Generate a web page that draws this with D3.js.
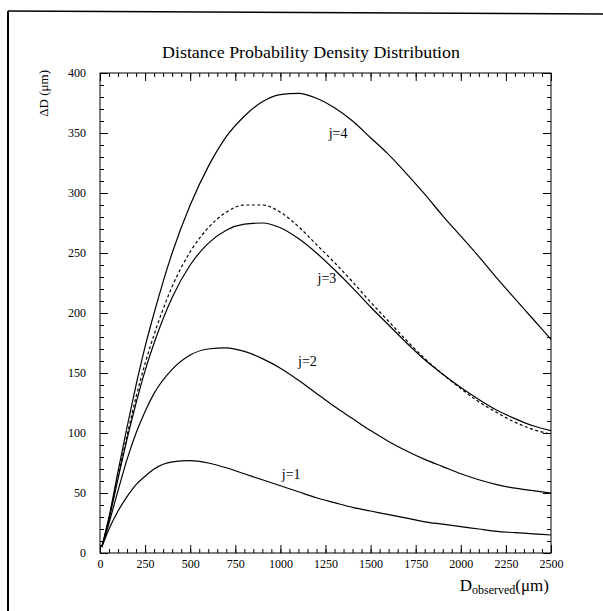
<!DOCTYPE html>
<html>
<head>
<meta charset="utf-8">
<script src="https://cdn.jsdelivr.net/npm/d3@7"></script>
<style>
  body { margin: 0; background: #fff; }
  svg text { font-family: "Liberation Serif", "DejaVu Serif", serif; fill: #000; }
</style>
</head>
<body>
<div id="chart"></div>
<script>
// D observed (um) sample positions, shared by every curve
var dObs = [10, 50, 100, 150, 200, 250, 300, 400, 500, 600, 700, 800, 900, 1000,
            1100, 1200, 1300, 1400, 1500, 1600, 1700, 1800, 1900, 2000,
            2100, 2200, 2300, 2400, 2500];

// delta D (um)
var j1 = [5, 20, 35, 47, 57, 64, 70, 76, 77, 75, 71, 66, 61, 56,
          51, 46, 42, 38, 35, 32, 29, 26, 24, 22, 20, 18, 17, 16, 15];
var j2 = [5, 25, 52, 78, 100, 118, 133, 153, 165, 170, 171, 168, 162, 154,
          144, 133, 122, 112, 102, 93, 85, 78, 72, 66, 61, 57, 54, 52, 50];
var j3 = [5, 28, 62, 95, 125, 152, 175, 213, 240, 258, 269, 274, 275, 271,
          262, 250, 236, 221, 205, 190, 175, 161, 149, 138, 128, 119, 112, 106, 102];
var j3dash = [5, 29, 64, 98, 130, 158, 182, 222, 251, 271, 284, 290, 290, 284,
              272, 257, 242, 226, 209, 193, 177, 162, 149, 137, 126, 117, 109, 103, 99];
var j4 = [5, 30, 68, 105, 140, 172, 200, 250, 290, 322, 347, 364, 376, 382,
          383, 379, 371, 360, 346, 332, 316, 299, 281, 264, 247, 229, 212, 195, 178];

var curveLabels = [
  { text: "j=1", x: 1060, y: 66 },
  { text: "j=2", x: 1150, y: 160 },
  { text: "j=3", x: 1258, y: 229 },
  { text: "j=4", x: 1320, y: 350 }
];

var xMajor = d3.range(0, 2501, 250);
var xMinor = d3.range(0, 2501, 50);
var yMajor = d3.range(0, 401, 50);
var yMinor = d3.range(0, 401, 10);

var width = 603, height = 611;
var plot = { left: 100, right: 551, top: 73, bottom: 553 };

var svg = d3.select("#chart").append("svg")
    .attr("width", width)
    .attr("height", height);

// scanned page border (left + top only)
svg.append("line")
    .attr("x1", 8).attr("y1", 11).attr("x2", 8).attr("y2", height)
    .attr("stroke", "#000").attr("stroke-width", 2);
svg.append("line")
    .attr("x1", 8).attr("y1", 11).attr("x2", width).attr("y2", 14)
    .attr("stroke", "#000").attr("stroke-width", 1.5);

var x = d3.scaleLinear().domain([0, 2500]).range([plot.left, plot.right]);
var y = d3.scaleLinear().domain([0, 400]).range([plot.bottom, plot.top]);

// axes: ticks point inward on all four sides
function styleAxis(g) {
  g.select(".domain").remove();
  g.selectAll("line").attr("stroke", "#000").attr("stroke-width", 1);
  g.selectAll("text").style("font-size", "12px").style("font-family", "Liberation Serif");
}

svg.append("g").attr("transform", "translate(0," + plot.bottom + ")")
    .call(d3.axisBottom(x).tickValues(xMinor).tickSize(-4).tickFormat(""))
    .call(styleAxis);
svg.append("g").attr("transform", "translate(0," + plot.bottom + ")")
    .call(d3.axisBottom(x).tickValues(xMajor).tickSize(-8).tickPadding(6).tickFormat(d3.format("d")))
    .call(styleAxis);
svg.append("g").attr("transform", "translate(0," + plot.top + ")")
    .call(d3.axisTop(x).tickValues(xMinor).tickSize(-4).tickFormat(""))
    .call(styleAxis);
svg.append("g").attr("transform", "translate(0," + plot.top + ")")
    .call(d3.axisTop(x).tickValues(xMajor).tickSize(-8).tickFormat(""))
    .call(styleAxis);

svg.append("g").attr("transform", "translate(" + plot.left + ",0)")
    .call(d3.axisLeft(y).tickValues(yMinor).tickSize(-4).tickFormat(""))
    .call(styleAxis);
svg.append("g").attr("transform", "translate(" + plot.left + ",0)")
    .call(d3.axisLeft(y).tickValues(yMajor).tickSize(-8).tickPadding(14).tickFormat(d3.format("d")))
    .call(styleAxis);
svg.append("g").attr("transform", "translate(" + plot.right + ",0)")
    .call(d3.axisRight(y).tickValues(yMinor).tickSize(-4).tickFormat(""))
    .call(styleAxis);
svg.append("g").attr("transform", "translate(" + plot.right + ",0)")
    .call(d3.axisRight(y).tickValues(yMajor).tickSize(-8).tickFormat(""))
    .call(styleAxis);

// frame
svg.append("rect")
    .attr("x", plot.left).attr("y", plot.top)
    .attr("width", plot.right - plot.left).attr("height", plot.bottom - plot.top)
    .attr("fill", "none").attr("stroke", "#000").attr("stroke-width", 1);

// curves
var line = d3.line()
    .x(function(d, i) { return x(dObs[i]); })
    .y(function(d) { return y(d); })
    .curve(d3.curveMonotoneX);

[j1, j2, j3, j4].forEach(function(s) {
  svg.append("path").datum(s)
      .attr("d", line)
      .attr("fill", "none").attr("stroke", "#000").attr("stroke-width", 1.2);
});
svg.append("path").datum(j3dash)
    .attr("d", line)
    .attr("fill", "none").attr("stroke", "#000").attr("stroke-width", 1.2)
    .attr("stroke-dasharray", "3,2.5");

svg.selectAll(".jlab").data(curveLabels).enter().append("text")
    .attr("class", "jlab")
    .attr("x", function(d) { return x(d.x); })
    .attr("y", function(d) { return y(d.y); })
    .attr("text-anchor", "middle")
    .attr("dy", "0.35em")
    .style("font-size", "14px")
    .text(function(d) { return d.text; });

// title
svg.append("text")
    .attr("x", 311).attr("y", 58)
    .attr("text-anchor", "middle")
    .attr("textLength", 298)
    .attr("lengthAdjust", "spacingAndGlyphs")
    .style("font-size", "16px")
    .text("Distance Probability Density Distribution");

// y label
svg.append("text")
    .attr("transform", "translate(48,70) rotate(-90)")
    .attr("text-anchor", "end")
    .style("font-size", "13px")
    .text("\u0394D (\u03bcm)");

// x label
var xl = svg.append("text")
    .attr("x", 549).attr("y", 591)
    .attr("text-anchor", "end")
    .style("font-size", "17px");
xl.append("tspan").text("D");
xl.append("tspan").attr("dy", 3).style("font-size", "12px").text("observed");
xl.append("tspan").attr("dy", -3).text("(\u03bcm)");
</script>
</body>
</html>
